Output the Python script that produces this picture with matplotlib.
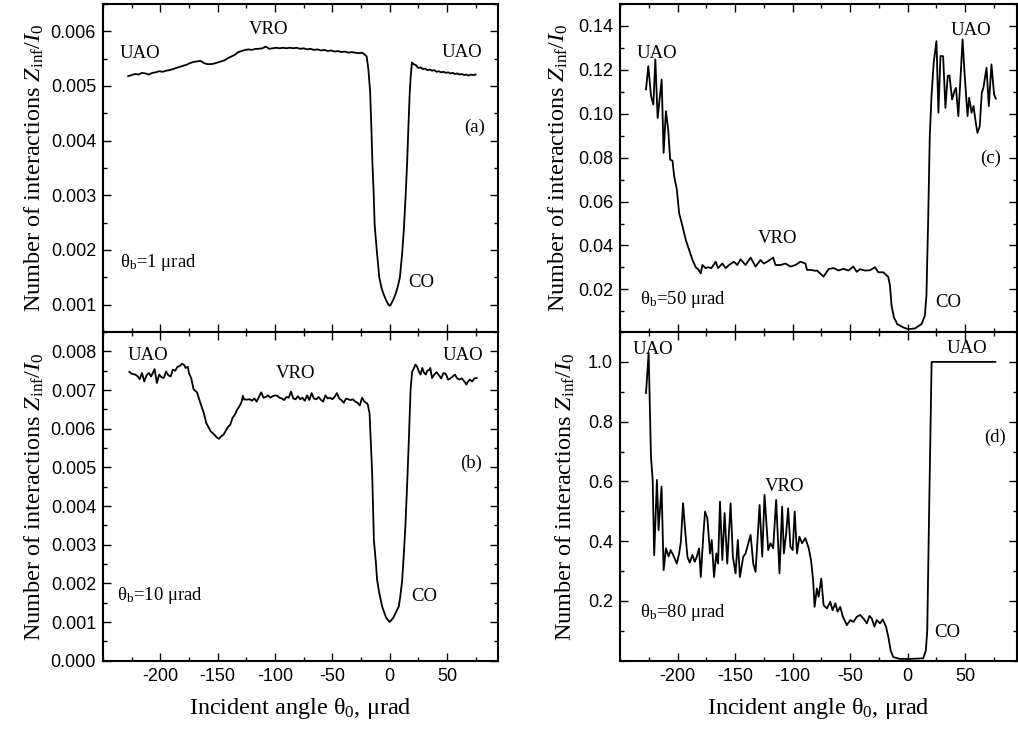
import numpy as np
import matplotlib
matplotlib.use("Agg")
import matplotlib.pyplot as plt
from matplotlib.ticker import MultipleLocator, FixedLocator, FormatStrFormatter

plt.rcParams['font.family'] = ['Liberation Sans', 'DejaVu Sans']
plt.rcParams['mathtext.fontset'] = 'custom'
plt.rcParams['mathtext.rm'] = 'Liberation Serif'
plt.rcParams['mathtext.it'] = 'Liberation Serif:italic'
plt.rcParams['axes.unicode_minus'] = False

# ---------------- data ----------------
a_x = [-228, -225, -222, -219, -216, -213, -210, -207, -204, -201, -198, -195, -192, -189, -186,
       -183, -180, -177, -174, -171, -168, -165, -162, -159, -156, -153, -150, -147, -144, -141,
       -138, -135, -132, -129, -126, -123, -120, -117, -114, -111, -108, -105, -102, -99, -96,
       -93, -90, -87, -84, -81, -78, -75, -72, -69, -66, -63, -60, -57, -54, -51,
       -48, -45, -42, -39, -36, -33, -30, -27, -24, -22, -20, -18.5, -17, -16, -15,
       -14, -13, -11, -9, -7, -5, -3, -1, 0, 1, 3, 5, 7, 9, 11,
       12.5, 14, 15.3, 16.5, 17.5, 18.5, 19.5, 21, 23, 25, 27, 29, 31, 33, 35,
       37, 39, 41, 43, 45, 47, 49, 51, 53, 55, 57, 59, 61, 63, 65,
       67, 69, 71, 73, 75]
a_y_milli = [5.18, 5.20, 5.22, 5.21, 5.24, 5.23, 5.21, 5.24, 5.25, 5.27, 5.26, 5.28, 5.29, 5.31, 5.33,
             5.35, 5.37, 5.39, 5.42, 5.44, 5.45, 5.46, 5.42, 5.40, 5.40, 5.41, 5.43, 5.45, 5.47, 5.51,
             5.54, 5.57, 5.62, 5.64, 5.66, 5.67, 5.66, 5.68, 5.68, 5.69, 5.72, 5.68, 5.69, 5.70, 5.69,
             5.70, 5.69, 5.70, 5.69, 5.70, 5.68, 5.69, 5.67, 5.68, 5.66, 5.67, 5.65, 5.66, 5.64, 5.65,
             5.63, 5.64, 5.62, 5.63, 5.61, 5.62, 5.61, 5.60, 5.61, 5.58, 5.54, 5.30, 4.90, 4.30, 3.60,
             3.10, 2.45, 1.95, 1.50, 1.30, 1.18, 1.08, 1.00, 0.98, 1.00, 1.08, 1.18, 1.32, 1.50, 1.95,
             2.40, 3.00, 3.60, 4.30, 4.85, 5.20, 5.43, 5.40, 5.38, 5.33, 5.34, 5.31, 5.32, 5.29, 5.30,
             5.28, 5.29, 5.26, 5.27, 5.25, 5.26, 5.24, 5.25, 5.23, 5.24, 5.22, 5.23, 5.21, 5.22, 5.20,
             5.21, 5.19, 5.21, 5.20, 5.21]

b_x = [-227, -225, -222, -220, -218, -216, -214, -212, -210, -208, -206, -205, -203, -201, -199,
       -197, -195, -193, -191, -189, -187, -185, -183, -181, -179, -178, -176, -175, -173, -171,
       -168, -165, -162, -160, -158, -156, -153, -151, -149, -147, -145, -143, -141, -139, -137,
       -135, -133, -131, -129, -128, -127, -125, -122, -120, -118, -116, -114, -112, -110, -108,
       -106, -104, -102, -100, -98, -96, -94, -92, -90, -88, -86, -84, -82, -80, -78,
       -76, -74, -72, -70, -68, -66, -64, -62, -60, -58, -56, -54, -52, -50, -48,
       -46, -44, -42, -40, -38, -36, -34, -32, -30, -28, -26, -24, -22, -20, -19,
       -17.5, -16.5, -15.2, -13.7, -12, -10.9, -9, -6.5, -3, 0, 3, 6, 8, 9.5, 11,
       12.5, 13.9, 15.5, 16.8, 18.3, 19.7, 21, 22.6, 24, 25.5, 27, 28.5, 30, 31.5, 33,
       34.5, 35.5, 37, 39, 41, 43, 45, 47, 49, 51, 53, 55, 57, 59, 61,
       63, 65, 67, 68, 70, 72, 74, 76]
b_y_milli = [7.47, 7.42, 7.40, 7.36, 7.28, 7.44, 7.22, 7.38, 7.44, 7.35, 7.48, 7.54, 7.18, 7.40, 7.33,
             7.31, 7.48, 7.38, 7.35, 7.53, 7.50, 7.60, 7.62, 7.68, 7.64, 7.57, 7.60, 7.44, 7.30, 7.02,
             6.94, 6.66, 6.40, 6.15, 6.04, 5.93, 5.85, 5.78, 5.74, 5.80, 5.84, 5.94, 6.04, 6.10, 6.28,
             6.36, 6.49, 6.58, 6.70, 6.85, 6.76, 6.75, 6.76, 6.72, 6.78, 6.70, 6.82, 6.94, 6.80, 6.82,
             6.86, 6.80, 6.84, 6.86, 6.85, 6.80, 6.78, 6.74, 6.82, 6.80, 6.96, 6.78, 6.76, 6.84, 6.76,
             6.80, 6.72, 6.86, 6.74, 6.92, 6.78, 6.76, 6.82, 6.75, 6.70, 6.86, 6.78, 6.80, 6.76, 6.82,
             6.92, 6.78, 6.74, 6.67, 6.78, 6.76, 6.74, 6.76, 6.70, 6.67, 6.60, 6.80, 6.70, 6.66, 6.62,
             6.40, 5.70, 4.85, 3.12, 2.55, 2.09, 1.75, 1.40, 1.11, 1.00, 1.10, 1.28, 1.40, 1.70, 2.09,
             2.80, 3.55, 4.70, 5.71, 7.01, 7.48, 7.55, 7.66, 7.60, 7.48, 7.40, 7.57, 7.45, 7.40, 7.50,
             7.52, 7.57, 7.31, 7.40, 7.46, 7.38, 7.30, 7.44, 7.42, 7.27, 7.30, 7.35, 7.40, 7.30, 7.27,
             7.30, 7.23, 7.14, 7.20, 7.27, 7.22, 7.30, 7.31]

c_x = [-227.4, -225.4, -223, -221, -219.3, -217.3, -213.8, -212.1, -210.1, -208.1, -206.4, -204.4,
       -202.9, -200.6, -198.6, -195.6, -192.8, -189.9, -187, -184.1, -182.1, -179.8, -178.4, -175.5,
       -173.5, -170.6, -166.8, -164.8, -161.1, -158.2, -155.3, -151, -148.1, -145.2, -140.9, -136.5,
       -132.2, -127.9, -125, -122.1, -116.9, -114.9, -110.5, -106.2, -101.9, -97.5, -93.3, -88.9,
       -87.5, -84.6, -80.3, -78.8, -73.1, -68.7, -64.4, -60.1, -55.7, -51.4, -47.2, -44.3,
       -41.4, -37.1, -32.8, -28.4, -25.5, -21.2, -16.9, -15.4, -14, -12, -9.1, -3.9,
       0.4, 6.2, 12, 14.9, 16.3, 17.8, 19.2, 20.7, 22.6, 25, 26.7, 28.5,
       30.8, 32.8, 34.8, 36.3, 38.6, 40.6, 42, 44, 46.3, 47.7, 49.4, 52,
       53.4, 55.5, 57.2, 59.2, 60.6, 62.6, 64.4, 65.8, 68.5, 70.5, 72.8, 75.1, 76.6]
c_y = [0.1111, 0.1217, 0.1080, 0.1042, 0.1248, 0.0981, 0.1156, 0.0822, 0.1012, 0.0928, 0.0791, 0.0786,
       0.0715, 0.0654, 0.0547, 0.0486, 0.0425, 0.0380, 0.0334, 0.0300, 0.0292, 0.0273, 0.0311, 0.0297,
       0.0301, 0.0297, 0.0326, 0.0297, 0.0318, 0.0297, 0.0311, 0.0326, 0.0311, 0.0337, 0.0311, 0.0345,
       0.0304, 0.0334, 0.0318, 0.0326, 0.0345, 0.0311, 0.0311, 0.0318, 0.0304, 0.0311, 0.0326, 0.0318,
       0.0289, 0.0289, 0.0285, 0.0286, 0.0258, 0.0293, 0.0297, 0.0286, 0.0294, 0.0286, 0.0304, 0.0280,
       0.0292, 0.0286, 0.0287, 0.0301, 0.0278, 0.0278, 0.0257, 0.0218, 0.0126, 0.0073, 0.0042, 0.0027,
       0.0019, 0.0022, 0.0042, 0.0080, 0.0171, 0.0517, 0.0898, 0.1080, 0.1233, 0.1331, 0.1005, 0.1263,
       0.1262, 0.1027, 0.1172, 0.1175, 0.1065, 0.1103, 0.1118, 0.0989, 0.1200, 0.1339, 0.1187, 0.0989,
       0.1073, 0.1005, 0.1035, 0.0959, 0.0913, 0.0943, 0.1096, 0.1118, 0.1210, 0.1035, 0.1225, 0.1088, 0.1069]

d_x = [-227.4, -225.1, -223.1, -221.6, -220.3, -217.9, -216.5, -213.9, -212.1, -210.1, -207.8, -206,
       -203.2, -200.6, -198.6, -197.1, -195.2, -193.4, -191.4, -189.4, -187.1, -185.1, -183.3, -181.3,
       -179.8, -177.5, -176.1, -174.1, -171.8, -170.3, -168.3, -166.3, -164.8, -163.1, -161.1, -159.1,
       -156.8, -153.9, -151.9, -149.6, -147.6, -145.8, -142.9, -140.9, -136.5, -134.2, -132.2, -130.7,
       -128.7, -126.4, -124.4, -121.2, -119.2, -116.9, -114.3, -111.4, -109.1, -107.6, -105.6, -103.9,
       -101.9, -99.9, -98.2, -96.2, -94.1, -91.8, -88.9, -86, -84, -82.2, -80.9, -78.9,
       -77.4, -75.1, -73.1, -70.2, -67.3, -65.3, -62.9, -60.9, -58.6, -56.3, -52.8, -49.9,
       -47.1, -44.2, -41.3, -38.4, -35.5, -33.2, -31.2, -28.9, -26.9, -24, -21.7, -18.8,
       -16.8, -14.8, -12.5, -6.7, 2, 13.5, 15.8, 17, 18.7, 20.8, 76.2]
d_y = [0.896, 1.030, 0.683, 0.605, 0.353, 0.605, 0.437, 0.583, 0.303, 0.376, 0.349, 0.370,
       0.349, 0.325, 0.359, 0.398, 0.527, 0.437, 0.348, 0.328, 0.354, 0.331, 0.348, 0.376,
       0.280, 0.425, 0.499, 0.477, 0.359, 0.404, 0.280, 0.359, 0.325, 0.532, 0.337, 0.494,
       0.325, 0.527, 0.348, 0.292, 0.404, 0.280, 0.348, 0.359, 0.421, 0.325, 0.297, 0.393,
       0.521, 0.348, 0.555, 0.370, 0.393, 0.376, 0.538, 0.292, 0.516, 0.359, 0.426, 0.510,
       0.381, 0.370, 0.499, 0.359, 0.415, 0.393, 0.410, 0.376, 0.337, 0.270, 0.180, 0.242,
       0.214, 0.275, 0.186, 0.175, 0.197, 0.169, 0.192, 0.164, 0.180, 0.147, 0.119, 0.136,
       0.130, 0.147, 0.153, 0.141, 0.125, 0.150, 0.141, 0.114, 0.136, 0.125, 0.138, 0.114,
       0.079, 0.034, 0.012, 0.006, 0.006, 0.008, 0.034, 0.101, 0.515, 1.000, 1.000]

x_major = [-200, -150, -100, -50, 0, 50]
theta_b_labels = ["θ$_{\\rm b}$=1 μrad", "θ$_{\\rm b}$=10 μrad", "θ$_{\\rm b}$=50 μrad", "θ$_{\\rm b}$=80 μrad"]
panel_letters = ["(a)", "(b)", "(c)", "(d)"]

# ---------------- figure ----------------
fig = plt.figure(figsize=(10.18, 7.31), dpi=100)
W, H = 1018.0, 731.0

def rect(l, t, r, b):
    return [l / W, 1 - b / H, (r - l) / W, (b - t) / H]

ax_a = fig.add_axes(rect(103, 4, 498.5, 332))
ax_b = fig.add_axes(rect(103, 332, 498.5, 660.7))
ax_c = fig.add_axes(rect(620, 4, 1017, 332))
ax_d = fig.add_axes(rect(620, 332, 1017, 660.7))

serif = 'Liberation Serif'
ylab = "Number of interactions $Z_{\\rm inf}/I_0$"
xlab = "Incident angle θ$_0$, μrad"

def style(ax, show_x):
    ax.set_xlim(-250, 95)
    ax.xaxis.set_major_locator(FixedLocator(x_major))
    ax.xaxis.set_minor_locator(MultipleLocator(25))
    ax.tick_params(which='both', direction='in', top=True, right=True, width=1.0)
    ax.tick_params(which='major', length=5.5, labelsize=13, pad=5)
    ax.tick_params(which='minor', length=3)
    for s in ax.spines.values():
        s.set_linewidth(1.5)
    if not show_x:
        ax.tick_params(axis='x', labelbottom=False)
    else:
        ax.set_xlabel(xlab, fontsize=17.5, family=serif, labelpad=8)

lw = 1.3
ax_a.plot(a_x, np.array(a_y_milli) * 1e-3, color='black', lw=lw)
ax_b.plot(b_x, np.array(b_y_milli) * 1e-3, color='black', lw=lw)
ax_c.plot(c_x, c_y, color='black', lw=lw)
ax_d.plot(d_x, d_y, color='black', lw=lw)

for ax, sx in [(ax_a, False), (ax_b, True), (ax_c, False), (ax_d, True)]:
    style(ax, sx)

ax_a.set_ylim(0.0005, 0.0065)
ax_a.yaxis.set_major_locator(FixedLocator([0.001, 0.002, 0.003, 0.004, 0.005, 0.006]))
ax_a.yaxis.set_minor_locator(MultipleLocator(0.0005))
ax_a.yaxis.set_major_formatter(FormatStrFormatter('%.3f'))

ax_b.set_ylim(0, 0.0085)
ax_b.yaxis.set_major_locator(MultipleLocator(0.001))
ax_b.yaxis.set_minor_locator(MultipleLocator(0.0005))
ax_b.yaxis.set_major_formatter(FormatStrFormatter('%.3f'))

ax_c.set_ylim(0.0006, 0.15)
ax_c.yaxis.set_major_locator(FixedLocator([0.02, 0.04, 0.06, 0.08, 0.10, 0.12, 0.14]))
ax_c.yaxis.set_minor_locator(MultipleLocator(0.01))
ax_c.yaxis.set_major_formatter(FormatStrFormatter('%.2f'))

ax_d.set_ylim(0, 1.1)
ax_d.yaxis.set_major_locator(FixedLocator([0.2, 0.4, 0.6, 0.8, 1.0]))
ax_d.yaxis.set_minor_locator(MultipleLocator(0.1))
ax_d.yaxis.set_major_formatter(FormatStrFormatter('%.1f'))

for ax, xc in [(ax_a, -0.145), (ax_b, -0.145), (ax_c, -0.127), (ax_d, -0.108)]:
    ax.set_ylabel(ylab, fontsize=17.5, family=serif)
    ax.yaxis.set_label_coords(xc, 0.5)

fs = 13.5
def t(ax, x, y, s, ha='center'):
    ax.text(x, y, s, fontsize=fs, family=serif, ha=ha, va='center')

# (a)
t(ax_a, -218, 0.0056, "UAO")
t(ax_a, -106, 0.00604, "VRO")
t(ax_a, 62.7, 0.00562, "UAO")
t(ax_a, 74.5, 0.00425, panel_letters[0])
t(ax_a, -235, 0.00178, theta_b_labels[0], ha='left')
t(ax_a, 28, 0.0014, "CO")
# (b)
t(ax_b, -211, 0.0079, "UAO")
t(ax_b, -82, 0.00742, "VRO")
t(ax_b, 64, 0.0079, "UAO")
t(ax_b, 71.4, 0.00511, panel_letters[1])
t(ax_b, -238, 0.00168, theta_b_labels[1], ha='left')
t(ax_b, 30, 0.00167, "CO")
# (c)
t(ax_c, -218, 0.1275, "UAO")
t(ax_c, 55, 0.1381, "UAO")
t(ax_c, -113.4, 0.043, "VRO")
t(ax_c, 71.9, 0.0795, panel_letters[2])
t(ax_c, -233, 0.0155, theta_b_labels[2], ha='left')
t(ax_c, 35, 0.014, "CO")
# (d)
t(ax_d, -221.6, 1.041, "UAO")
t(ax_d, 51.8, 1.044, "UAO")
t(ax_d, -107, 0.583, "VRO")
t(ax_d, 75.6, 0.748, panel_letters[3])
t(ax_d, -233, 0.162, theta_b_labels[3], ha='left')
t(ax_d, 34, 0.093, "CO")

fig.savefig("out.png", dpi=100)
